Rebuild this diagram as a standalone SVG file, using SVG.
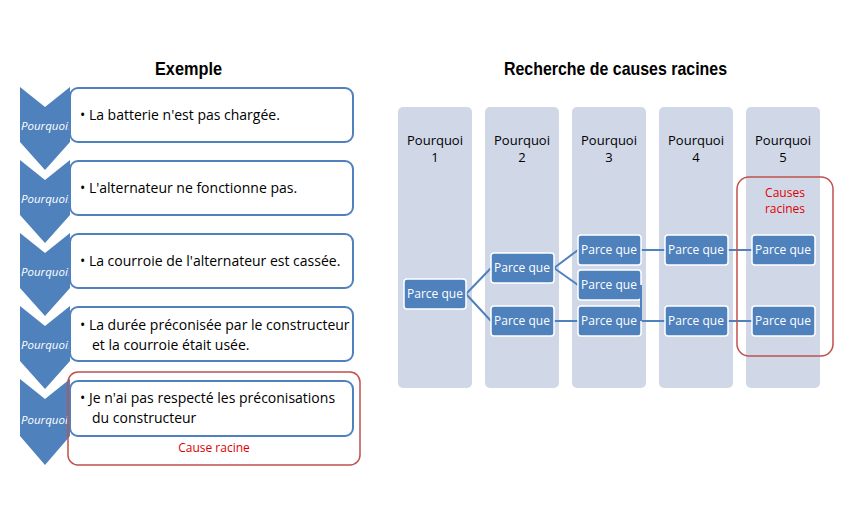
<svg xmlns="http://www.w3.org/2000/svg" width="842" height="510" viewBox="0 0 842 510">
<style>
.h{font-family:"Liberation Sans","DejaVu Sans",sans-serif;font-weight:bold;font-size:19px;fill:#000}
.chev{fill:#4f81bd}
.pq{font-family:"Open Sans","Liberation Sans",sans-serif;font-style:italic;font-size:11.5px;fill:#fff}
.box{fill:#fff;stroke:#4f81bd;stroke-width:2}
.bt{font-family:"Open Sans","Liberation Sans",sans-serif;font-size:14px;fill:#000}
.col{fill:#d0d8e8}
.ct{font-family:"Open Sans","Liberation Sans",sans-serif;font-size:13px;fill:#000;text-anchor:middle}
.n{fill:#4f81bd;stroke:#fff;stroke-width:1.5}
.nt{font-family:"Open Sans","Liberation Sans",sans-serif;font-size:12px;fill:#fff;text-anchor:middle}
.red{fill:none;stroke:#c0504d;stroke-width:1.5}
.rt{font-family:"Open Sans","Liberation Sans",sans-serif;font-size:12px;fill:#e00000;text-anchor:middle}
.c{stroke:#4f81bd;stroke-width:2;fill:none}
</style>
<rect width="842" height="510" fill="#fff"/>
<text class="h" x="155" y="75" textLength="67" lengthAdjust="spacingAndGlyphs">Exemple</text>
<text class="h" x="504" y="75" textLength="223" lengthAdjust="spacingAndGlyphs">Recherche de causes racines</text>
<g id="chevrons">
<polygon class="chev" points="20,87 45,107 70,87 70,142 45,170 20,142"/>
<polygon class="chev" points="20,160 45,180 70,160 70,215 45,243 20,215"/>
<polygon class="chev" points="20,233 45,253 70,233 70,288 45,316 20,288"/>
<polygon class="chev" points="20,306 45,326 70,306 70,361 45,389 20,361"/>
<polygon class="chev" points="20,379 45,399 70,379 70,436 45,465 20,436"/>
<text class="pq" x="21" y="130">Pourquoi?</text>
<text class="pq" x="21" y="203">Pourquoi?</text>
<text class="pq" x="21" y="276">Pourquoi?</text>
<text class="pq" x="21" y="349">Pourquoi?</text>
<text class="pq" x="21" y="424">Pourquoi?</text>
</g>
<g id="step1"><rect class="box" x="70" y="88" width="283" height="54" rx="8"/><text class="bt" x="80" y="120">•  La batterie n'est pas chargée.</text></g>
<g id="step2"><rect class="box" x="70" y="161" width="283" height="54" rx="8"/><text class="bt" x="80" y="193">•  L'alternateur ne fonctionne pas.</text></g>
<g id="step3"><rect class="box" x="70" y="234" width="283" height="54" rx="8"/><text class="bt" x="80" y="266">•  La courroie de l'alternateur est cassée.</text></g>
<g id="step4"><rect class="box" x="70" y="307" width="283" height="54" rx="8"/><text class="bt" x="80" y="330">•  La durée préconisée par le constructeur</text><text class="bt" x="92" y="350">et la courroie était usée.</text></g>
<g id="step5"><rect class="box" x="70" y="381" width="283" height="55" rx="8"/><text class="bt" x="80" y="403">•   Je n'ai pas respecté les préconisations</text><text class="bt" x="92" y="423">du constructeur</text></g>
<g id="cause"><rect class="red" x="68" y="372" width="292" height="93" rx="10"/><text class="rt" x="214" y="452">Cause racine</text></g>
<g id="columns">
<rect class="col" x="398" y="107" width="74" height="281" rx="5"/>
<rect class="col" x="485" y="107" width="74" height="281" rx="5"/>
<rect class="col" x="572" y="107" width="74" height="281" rx="5"/>
<rect class="col" x="659" y="107" width="74" height="281" rx="5"/>
<rect class="col" x="746" y="107" width="74" height="281" rx="5"/>
<text class="ct" x="435" y="145">Pourquoi</text><text class="ct" x="435" y="162">1</text>
<text class="ct" x="522" y="145">Pourquoi</text><text class="ct" x="522" y="162">2</text>
<text class="ct" x="609" y="145">Pourquoi</text><text class="ct" x="609" y="162">3</text>
<text class="ct" x="696" y="145">Pourquoi</text><text class="ct" x="696" y="162">4</text>
<text class="ct" x="783" y="145">Pourquoi</text><text class="ct" x="783" y="162">5</text>
</g>
<g id="connectors">
<path class="c" d="M466,294 L491,268 M466,294 L491,321 M554,268 L578,250 M554,268 L578,285 M554,321 L578,321 M641,250 L665,250 M641,321 L665,321 M728,250 L752,250 M728,321 L752,321"/>
</g>
<g id="n1"><rect class="n" x="404" y="279" width="62" height="30" rx="3"/><text class="nt" x="435" y="298">Parce que</text></g>
<g id="n2a"><rect class="n" x="491" y="253" width="63" height="30" rx="3"/><text class="nt" x="522" y="272">Parce que</text></g>
<g id="n2b"><rect class="n" x="491" y="306" width="63" height="30" rx="3"/><text class="nt" x="522" y="325">Parce que</text></g>
<g id="n3a"><rect class="n" x="578" y="235" width="63" height="30" rx="3"/><text class="nt" x="609" y="254">Parce que</text></g>
<g id="n3b"><rect class="n" x="578" y="270" width="63" height="30" rx="3"/><text class="nt" x="609" y="289">Parce que</text></g>
<g id="n3c"><rect class="n" x="578" y="306" width="63" height="30" rx="3"/><text class="nt" x="609" y="325">Parce que</text></g>
<g id="n4a"><rect class="n" x="665" y="235" width="63" height="30" rx="3"/><text class="nt" x="696" y="254">Parce que</text></g>
<g id="n4b"><rect class="n" x="665" y="306" width="63" height="30" rx="3"/><text class="nt" x="696" y="325">Parce que</text></g>
<g id="n5a"><rect class="n" x="752" y="235" width="63" height="30" rx="3"/><text class="nt" x="783" y="254">Parce que</text></g>
<g id="n5b"><rect class="n" x="752" y="306" width="63" height="30" rx="3"/><text class="nt" x="783" y="325">Parce que</text></g>
<g id="link3"><path class="c" d="M641,285 L641,321" stroke-width="1.5"/></g>
<g id="roots"><rect class="red" x="737" y="177" width="96" height="179" rx="12"/><text class="rt" x="785" y="197">Causes</text><text class="rt" x="785" y="213">racines</text></g>
</svg>
